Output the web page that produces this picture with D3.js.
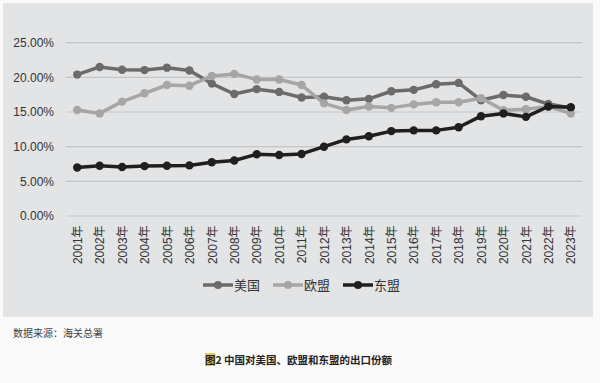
<!DOCTYPE html>
<html>
<head>
<meta charset="utf-8">
<script src="https://cdn.jsdelivr.net/npm/d3@7"></script>
<style>
body { margin: 0; background: #fafafa; }
svg { display: block; }
</style>
</head>
<body>
<div id="chart"></div>
<script>
// years on the x axis
var years = ["2001","2002","2003","2004","2005","2006","2007","2008","2009","2010","2011","2012",
  "2013","2014","2015","2016","2017","2018","2019","2020","2021","2022","2023"];

// export share, percent
var usa = [20.4,21.5,21.1,21.05,21.4,21.0,19.1,17.6,18.3,17.9,17.1,17.2,16.7,16.9,18.0,18.2,19.0,19.2,16.7,17.45,17.2,16.15,15.6];
var eu = [15.3,14.8,16.5,17.7,18.9,18.8,20.2,20.5,19.7,19.7,18.9,16.25,15.3,15.8,15.6,16.1,16.4,16.4,17.0,15.25,15.4,15.8,14.8];
var asean = [7.0,7.25,7.07,7.2,7.25,7.3,7.75,8.0,8.9,8.8,8.95,10.0,11.05,11.5,12.25,12.35,12.35,12.8,14.4,14.8,14.3,15.8,15.7];

var yTicks = [0,5,10,15,20,25];
var seriesNames = ["美国","欧盟","东盟"];
var colors = ["#6b6b6b","#a6a6a6","#1f1f1f"];

var W = 600, H = 383;
var margin = {top: 42.7, left: 66, right: 18, bottom: 167};

var svg = d3.select("#chart").append("svg")
  .attr("width", W)
  .attr("height", H);

// grey panel
svg.append("rect")
  .attr("x", 3).attr("y", 3)
  .attr("width", 590).attr("height", 314)
  .attr("fill", "#e3e4e6");

var x = d3.scalePoint()
  .domain(years)
  .range([margin.left, W - margin.right])
  .padding(0.5);

var y = d3.scaleLinear()
  .domain([0, 25])
  .range([216, margin.top]);

// gridlines
svg.selectAll(".grid")
  .data(yTicks)
  .enter()
  .append("line")
  .attr("x1", margin.left)
  .attr("x2", W - margin.right)
  .attr("y1", d => y(d))
  .attr("y2", d => y(d))
  .attr("stroke", "#c4c5c7")
  .attr("stroke-width", 1.2);

// y labels
var yAxis = svg.append("g")
  .attr("transform", "translate(54,0)")
  .call(d3.axisLeft(y).tickValues(yTicks).tickSize(0).tickFormat(d => d.toFixed(2) + "%"));
yAxis.select(".domain").remove();
yAxis.selectAll("text")
  .attr("x", 0)
  .attr("font-family", "Liberation Sans, Arial, sans-serif")
  .attr("font-size", 12)
  .attr("fill", "#333");

// x labels, rotated
var xAxis = svg.append("g")
  .attr("transform", "translate(0,223)")
  .call(d3.axisBottom(x).tickSize(0).tickFormat(d => d + "年"));
xAxis.select(".domain").remove();
xAxis.selectAll("text")
  .attr("font-family", "Liberation Sans, 'Noto Sans CJK SC', sans-serif")
  .attr("font-size", 12)
  .attr("fill", "#333")
  .attr("transform", "rotate(-90)")
  .attr("x", 0)
  .attr("y", 0)
  .attr("dx", "-0.2em")
  .attr("dy", "0.35em")
  .attr("text-anchor", "end");

var line = d3.line()
  .x((d, i) => x(years[i]))
  .y(d => y(d));

var all = [usa, eu, asean];
all.forEach(function(vals, k) {
  svg.append("path")
    .datum(vals)
    .attr("d", line)
    .attr("fill", "none")
    .attr("stroke", colors[k])
    .attr("stroke-width", 3.5)
    .attr("stroke-linejoin", "round");
  svg.selectAll(".pt" + k)
    .data(vals)
    .enter()
    .append("circle")
    .attr("cx", (d, i) => x(years[i]))
    .attr("cy", d => y(d))
    .attr("r", 4.2)
    .attr("fill", colors[k]);
});

// legend
var legendX = [203, 273, 343];
var legend = svg.selectAll(".leg")
  .data(seriesNames)
  .enter()
  .append("g")
  .attr("transform", (d, i) => "translate(" + legendX[i] + ",285)");
legend.append("line")
  .attr("x1", 0).attr("x2", 30)
  .attr("stroke", (d, i) => colors[i])
  .attr("stroke-width", 3.5);
legend.append("circle")
  .attr("cx", 15).attr("r", 4)
  .attr("fill", (d, i) => colors[i]);
legend.append("text")
  .attr("x", 31)
  .attr("dy", "0.36em")
  .attr("font-family", "'Noto Sans CJK SC', sans-serif")
  .attr("font-size", 13)
  .attr("fill", "#333")
  .text(d => d);

// source note
svg.append("text")
  .attr("x", 13).attr("y", 337)
  .attr("font-family", "'Noto Sans CJK SC', sans-serif")
  .attr("font-size", 10)
  .attr("fill", "#444")
  .text("数据来源：海关总署");

// caption
svg.append("rect")
  .attr("x", 205).attr("y", 353)
  .attr("width", 10.5).attr("height", 13)
  .attr("fill", "#e9c95a");
svg.append("text")
  .attr("x", 205).attr("y", 364)
  .attr("font-family", "'Noto Sans CJK SC', sans-serif")
  .attr("font-weight", "bold")
  .attr("font-size", 10.5)
  .attr("fill", "#222")
  .text("图2 中国对美国、欧盟和东盟的出口份额");
</script>
</body>
</html>
